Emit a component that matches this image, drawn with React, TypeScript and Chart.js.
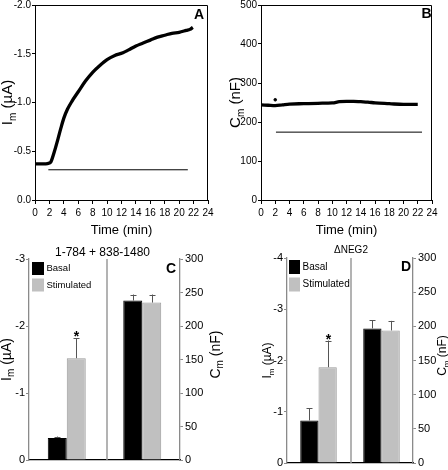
import React, { useEffect, useRef } from 'react';
import { Chart, registerables } from 'chart.js';

Chart.register(...registerables);

const FONT = "'Liberation Sans', Arial, sans-serif";
const NARROW = "'Liberation Sans Narrow', 'Liberation Sans', Arial, sans-serif";

// ---------- Panel A: membrane current vs time ----------
const timeA = [0, 0.5, 1, 1.5, 2, 2.2, 2.7, 3.2, 3.6, 4, 4.5, 5.1, 6, 7, 8, 9, 10, 11, 12.2, 13, 14, 15, 16, 17, 18, 19, 20, 21, 21.5, 21.9];
const currentA = [-0.37, -0.37, -0.37, -0.37, -0.38, -0.39, -0.5, -0.63, -0.74, -0.84, -0.93, -1.01, -1.11, -1.22, -1.31, -1.38, -1.44, -1.48, -1.51, -1.54, -1.58, -1.61, -1.64, -1.67, -1.69, -1.71, -1.72, -1.74, -1.75, -1.77];
const stimTimesA = [1.85, 21.2];
const stimLevelA = -0.31;

// ---------- Panel B: membrane capacitance vs time ----------
const timeB = [0, 1, 2, 3, 4, 6, 8, 10, 11, 12, 13, 14, 15, 16, 18, 20, 22];
const capB = [244, 243, 242, 244, 246, 247, 248, 249, 252, 253, 253, 252, 251, 249, 247, 245, 245];
const spikeTimeB = [2.0];
const spikeCapB = [257];
const stimTimesB = [2.1, 22.6];
const stimLevelB = 174;

// ---------- Panels C, D: bar summaries ----------
const conditions = ['Basal', 'Stimulated'];
const groups = ['Im', 'Cm'];
const titleC = '1-784 + 838-1480';
const currentC = [-0.33, -1.52];
const currentErrC = [0.02, 0.3];
const capC = [238, 235];
const capErrC = [9, 12];
const starsC = [false, true];

const titleD = '\u0394NEG2';
const currentD = [-0.83, -1.87];
const currentErrD = [0.24, 0.52];
const capD = [197, 194];
const capErrD = [12, 14];
const starsD = [false, true];

function drawSubLabel(ctx: CanvasRenderingContext2D, cx: number, cy: number, main: string, sub: string, rest: string, size: number) {
  ctx.save();
  ctx.translate(cx, cy);
  ctx.rotate(-Math.PI / 2);
  ctx.fillStyle = '#000';
  ctx.textBaseline = 'middle';
  ctx.textAlign = 'left';
  const fMain = `${size}px ${FONT}`;
  const fSub = `${Math.round(size * 0.68)}px ${FONT}`;
  ctx.font = fMain;
  const w1 = ctx.measureText(main).width;
  const w3 = ctx.measureText(rest).width;
  ctx.font = fSub;
  const w2 = ctx.measureText(sub).width;
  let x = -(w1 + w2 + w3) / 2;
  ctx.font = fMain;
  ctx.fillText(main, x, 0);
  x += w1;
  ctx.font = fSub;
  ctx.fillText(sub, x, size * 0.32);
  x += w2;
  ctx.font = fMain;
  ctx.fillText(rest, x, 0);
  ctx.restore();
}

function fixSize(w: number | null, h: number | null) {
  return (s: any) => {
    if (w !== null) s.width = w;
    if (h !== null) s.height = h;
    s.paddingTop = 0;
    s.paddingBottom = 0;
    s.paddingLeft = 0;
    s.paddingRight = 0;
  };
}

function traceConfig(p: any): any {
  const framePlugin = {
    id: 'frame' + p.letter,
    afterDraw(chart: any) {
      const { ctx, chartArea: a } = chart;
      ctx.save();
      ctx.strokeStyle = '#000';
      ctx.lineWidth = 1;
      ctx.beginPath();
      const t = Math.round(a.top) + 0.5;
      const r = Math.round(a.right) - 0.5;
      ctx.moveTo(a.left, t);
      ctx.lineTo(r, t);
      ctx.lineTo(r, a.bottom);
      ctx.stroke();
      ctx.fillStyle = '#000';
      ctx.font = `bold 14px ${FONT}`;
      ctx.textAlign = 'center';
      ctx.textBaseline = 'middle';
      ctx.fillText(p.letter, a.right - p.letterDx, a.top + p.letterDy);
      ctx.restore();
      drawSubLabel(ctx, a.left - p.titleDx, (a.top + a.bottom) / 2, p.yMain, 'm', p.yRest, 15);
    },
  };
  const datasets: any[] = [
    {
      type: 'line',
      data: p.times.map((t: number, i: number) => ({ x: t, y: p.values[i] })),
      borderColor: '#000',
      borderWidth: 3.3,
      pointRadius: 0,
      cubicInterpolationMode: 'monotone',
      fill: false,
    },
    {
      type: 'line',
      data: p.stimTimes.map((t: number) => ({ x: t, y: p.stimLevel })),
      borderColor: '#000',
      borderWidth: 1,
      pointRadius: 0,
      fill: false,
    },
  ];
  if (p.spikeTimes) {
    datasets.push({
      type: 'scatter',
      data: p.spikeTimes.map((t: number, i: number) => ({ x: t, y: p.spikeValues[i] })),
      backgroundColor: '#000',
      borderColor: '#000',
      pointRadius: 1.3,
    });
  }
  return {
    type: 'line',
    data: { datasets },
    options: {
      animation: false,
      responsive: false,
      devicePixelRatio: 1,
      layout: { padding: { top: p.padTop, right: p.padRight, left: 0, bottom: 0 } },
      plugins: { legend: { display: false }, tooltip: { enabled: false } },
      scales: {
        x: {
          type: 'linear',
          min: 0,
          max: 24,
          ticks: { stepSize: 2, font: { size: 10, family: NARROW }, color: '#000', padding: 3, maxRotation: 0, autoSkip: false },
          grid: { drawOnChartArea: false, tickLength: 4, color: '#000' },
          border: { color: '#000', width: 1 },
          title: { display: true, text: 'Time (min)', font: { size: 13, family: FONT }, color: '#000', padding: { top: 0, bottom: 2 } },
          afterFit: fixSize(null, p.xHeight),
        },
        y: {
          type: 'linear',
          min: p.yMin,
          max: p.yMax,
          reverse: p.reverse,
          ticks: {
            stepSize: p.yStep,
            font: { size: 10, family: NARROW },
            color: '#000',
            padding: 1,
            callback: (v: any) => (p.decimals ? Number(v).toFixed(p.decimals) : String(Math.round(Number(v)))),
          },
          grid: { drawOnChartArea: false, tickLength: 3, color: '#000' },
          border: { color: '#000', width: 1 },
          afterFit: fixSize(p.yWidth, null),
        },
      },
    },
    plugins: [framePlugin],
  };
}

function barConfig(p: any): any {
  const imColors = ['#000000', '#c0c0c0'];
  const imBorders = ['#000000', '#9a9a9a'];
  const datasets = [
    ...p.im.map((v: number, i: number) => ({
      label: conditions[i],
      yAxisID: 'yL',
      data: [v, null],
      backgroundColor: imColors[i],
      borderColor: imBorders[i],
      borderWidth: 1,
      skipNull: true,
      categoryPercentage: p.catPct,
      barPercentage: 1,
    })),
    ...p.cm.map((v: number, i: number) => ({
      label: conditions[i],
      yAxisID: 'yR',
      data: [null, v],
      backgroundColor: imColors[i],
      borderColor: imBorders[i],
      borderWidth: 1,
      skipNull: true,
      categoryPercentage: p.catPct,
      barPercentage: 1,
    })),
  ];
  const errs = [
    ...p.imErr.map((e: number) => [e, null]),
    ...p.cmErr.map((e: number) => [null, e]),
  ];
  const stars = [...p.stars.map((s: boolean) => [s, false]), [false, false], [false, false]];

  const extras = {
    id: 'extras' + p.letter,
    afterDatasetsDraw(chart: any) {
      const { ctx, chartArea: a } = chart;
      const xs = chart.scales.x;
      ctx.save();
      const xd = Math.round((xs.getPixelForValue(0) + xs.getPixelForValue(1)) / 2 + p.divShift);
      ctx.strokeStyle = '#9a9a9a';
      ctx.lineWidth = 1.5;
      ctx.beginPath();
      ctx.moveTo(xd, a.top);
      ctx.lineTo(xd, a.bottom);
      ctx.stroke();
      errs.forEach((arr: any[], di: number) => {
        const meta = chart.getDatasetMeta(di);
        const ds = chart.data.datasets[di];
        const scale = chart.scales[ds.yAxisID];
        arr.forEach((e: any, j: number) => {
          const v = ds.data[j];
          if (v === null || e === null) return;
          const el = meta.data[j];
          const yEnd = scale.getPixelForValue(v + Math.sign(v) * e);
          const x = Math.round(el.x) + 0.5;
          ctx.strokeStyle = '#555';
          ctx.lineWidth = 1;
          ctx.beginPath();
          ctx.moveTo(x, el.y);
          ctx.lineTo(x, yEnd);
          ctx.moveTo(x - 3, Math.round(yEnd) + 0.5);
          ctx.lineTo(x + 3, Math.round(yEnd) + 0.5);
          ctx.stroke();
          if (stars[di][j]) {
            ctx.fillStyle = '#000';
            ctx.font = `bold 14px ${FONT}`;
            ctx.textAlign = 'center';
            ctx.textBaseline = 'alphabetic';
            ctx.fillText('*', x, yEnd + 3);
          }
        });
      });
      ctx.restore();
    },
    afterDraw(chart: any) {
      const { ctx, chartArea: a } = chart;
      ctx.save();
      const lg = p.legend;
      const colors = ['#000000', '#c0c0c0'];
      conditions.forEach((c, i) => {
        const bx = a.left + lg.dx;
        const by = a.top + lg.dy + i * lg.gap;
        ctx.fillStyle = colors[i];
        ctx.fillRect(bx, by, lg.w, lg.h);
        ctx.fillStyle = '#000';
        ctx.font = `${lg.size}px ${lg.family}`;
        ctx.textAlign = 'left';
        ctx.textBaseline = 'middle';
        ctx.fillText(c, bx + lg.w + 2.5, by + lg.h / 2);
      });
      ctx.font = `bold 14px ${FONT}`;
      ctx.textAlign = 'center';
      ctx.textBaseline = 'middle';
      ctx.fillText(p.letter, a.right - p.letterDx, a.top + p.letterDy);
      ctx.font = `${p.titleSize}px ${p.titleFamily}`;
      ctx.fillText(p.title, (a.left + a.right) / 2 + p.titleShift, a.top - p.titleDy);
      ctx.restore();
      const cy = (a.top + a.bottom) / 2;
      drawSubLabel(ctx, a.left - p.leftTitleDx, cy, 'I', 'm', ' (\u00b5A)', p.axisTitleSize);
      drawSubLabel(ctx, a.right + p.rightTitleDx, cy - 5, 'C', 'm', ' (nF)', p.axisTitleSize);
    },
  };

  const yTickFont = { size: p.tickSize, family: NARROW };
  return {
    type: 'bar',
    data: { labels: groups, datasets },
    options: {
      animation: false,
      responsive: false,
      devicePixelRatio: 1,
      layout: { padding: { top: p.padTop, right: 0, left: 0, bottom: 0 } },
      plugins: { legend: { display: false }, tooltip: { enabled: false } },
      scales: {
        x: {
          type: 'category',
          ticks: { display: false },
          grid: { display: false },
          border: { color: '#000', width: 1.3 },
          afterFit: fixSize(null, p.xHeight),
        },
        yL: {
          type: 'linear',
          position: 'left',
          min: p.imMin,
          max: 0,
          reverse: true,
          ticks: { stepSize: 1, font: yTickFont, color: '#000', padding: 1 },
          grid: { drawOnChartArea: false, tickLength: 3, color: '#8a8a8a' },
          border: { color: '#8a8a8a', width: 1.3 },
          afterFit: fixSize(p.leftWidth, null),
        },
        yR: {
          type: 'linear',
          position: 'right',
          min: 0,
          max: 300,
          ticks: { stepSize: 50, font: yTickFont, color: '#000', padding: 2 },
          grid: { drawOnChartArea: false, tickLength: 3, color: '#8a8a8a' },
          border: { color: '#8a8a8a', width: 1.3 },
          afterFit: fixSize(p.rightWidth, null),
        },
      },
    },
    plugins: [extras],
  };
}

export default function App() {
  const refA = useRef<HTMLCanvasElement>(null);
  const refB = useRef<HTMLCanvasElement>(null);
  const refC = useRef<HTMLCanvasElement>(null);
  const refD = useRef<HTMLCanvasElement>(null);

  useEffect(() => {
    document.body.style.margin = '0';
    Chart.defaults.font.family = FONT;
    Chart.defaults.color = '#000';
    const charts = [
      new Chart(refA.current!, traceConfig({
        letter: 'A', times: timeA, values: currentA, stimTimes: stimTimesA, stimLevel: stimLevelA,
        yMin: -2, yMax: 0, reverse: true, yStep: 0.5, decimals: 1,
        padTop: 5, padRight: 16, xHeight: 40, yWidth: 35,
        letterDx: 9, letterDy: 10, titleDx: 27, yMain: 'I', yRest: ' (\u00b5A)',
      })),
      new Chart(refB.current!, traceConfig({
        letter: 'B', times: timeB, values: capB, stimTimes: stimTimesB, stimLevel: stimLevelB,
        spikeTimes: spikeTimeB, spikeValues: spikeCapB,
        yMin: 0, yMax: 500, reverse: false, yStep: 100, decimals: 0,
        padTop: 5, padRight: 16, xHeight: 40, yWidth: 37,
        letterDx: 5.5, letterDy: 9.5, titleDx: 25, yMain: 'C', yRest: ' (nF)',
      })),
      new Chart(refC.current!, barConfig({
        letter: 'C', title: titleC, im: currentC, imErr: currentErrC, cm: capC, cmErr: capErrC, stars: starsC,
        imMin: -3, catPct: 0.503, padTop: 19, xHeight: 10, leftWidth: 29, rightWidth: 44,
        divShift: 2, letterDx: 9, letterDy: 10.5, titleSize: 12, titleFamily: FONT, titleDy: 6, titleShift: -2,
        tickSize: 11, axisTitleSize: 14, leftTitleDx: 22, rightTitleDx: 36,
        legend: { dx: 3, dy: 3, w: 12, h: 13, gap: 16.5, size: 9.5, family: FONT },
      })),
      new Chart(refD.current!, barConfig({
        letter: 'D', title: titleD, im: currentD, imErr: currentErrD, cm: capD, cmErr: capErrD, stars: starsD,
        imMin: -4, catPct: 0.58, padTop: 18, xHeight: 7, leftWidth: 63, rightWidth: 35,
        divShift: 1, letterDx: 7, letterDy: 9.5, titleSize: 10, titleFamily: NARROW, titleDy: 7.5, titleShift: 1,
        tickSize: 11, axisTitleSize: 12, leftTitleDx: 19, rightTitleDx: 30,
        legend: { dx: 2, dy: 2, w: 11, h: 14, gap: 17.5, size: 10, family: NARROW },
      })),
    ];
    return () => charts.forEach((c) => c.destroy());
  }, []);

  const cs = (left: number, top: number, w: number, h: number): React.CSSProperties => ({
    position: 'absolute', left, top, width: w, height: h,
  });

  return (
    <div style={{ position: 'fixed', left: 0, top: 0, width: 448, height: 470, background: '#fff', overflow: 'hidden' }}>
      <canvas ref={refA} width={224} height={240} style={cs(0, 0, 224, 240)} />
      <canvas ref={refB} width={224} height={240} style={cs(224, 0, 224, 240)} />
      <canvas ref={refC} width={224} height={230} style={cs(0, 240, 224, 230)} />
      <canvas ref={refD} width={224} height={230} style={cs(224, 240, 224, 230)} />
    </div>
  );
}
